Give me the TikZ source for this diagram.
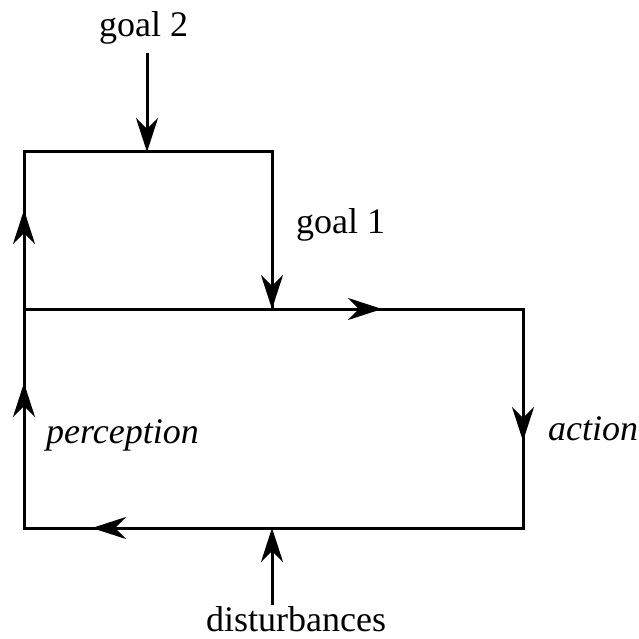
\documentclass[tikz,border=0pt]{standalone}
\usepackage{fontspec}
\setmainfont{Liberation Serif}
\usetikzlibrary{arrows.meta}
\begin{document}
\begin{tikzpicture}[x=1pt,y=-1pt,
  wire/.style={line width=3pt, line join=miter},
  flow/.style={wire, -{Stealth[length=34pt,width=22pt,inset=11pt]}},
  lbl/.style={inner sep=0pt, anchor=base west, font=\fontsize{36}{40}\selectfont},
  ilbl/.style={lbl, font=\fontsize{36}{40}\selectfont\itshape}]
\useasboundingbox (0,0) rectangle (639,639);

% corners of the two loops
\coordinate (ul) at (24,152);
\coordinate (ur) at (272,152);
\coordinate (ml) at (24,309);
\coordinate (mm) at (272,309);
\coordinate (mr) at (523,309);
\coordinate (bl) at (24,528);
\coordinate (bm) at (272,528);
\coordinate (br) at (523,528);

% inputs
\coordinate (g2in) at (147,152);
\coordinate (g2top) at (147,53);
\coordinate (dbot) at (272,605);

% arrow tips along the loops
\coordinate (tipul) at (24,210);
\coordinate (tiptop) at (382,309);
\coordinate (tipright) at (523,441);
\coordinate (tipbottom) at (92,528);
\coordinate (tipll) at (24,383);

% labels
\node[lbl]  (goaltwo) at (99,37)  {goal 2};
\node[lbl]  (goalone) at (296,233) {goal 1};
\node[ilbl] (perc)    at (46,443) {perception};
\node[ilbl] (act)     at (548,440) {action};
\node[lbl]  (dist)    at (206,631) {disturbances};

% upper loop
\draw[wire] (ml) -- (ul) -- (ur) -- (mm);
\draw[flow] (ml) -- (tipul);
\draw[flow] (ur) -- (mm);

% lower loop
\draw[wire] (ml) -- (mr) -- (br) -- (bl) -- cycle;
\draw[flow] (ml) -- (tiptop);
\draw[flow] (mr) -- (tipright);
\draw[flow] (br) -- (tipbottom);
\draw[flow] (bl) -- (tipll);

% external inputs
\draw[flow] (g2top) -- (g2in);
\draw[flow] (dbot) -- (bm);
\end{tikzpicture}
\end{document}
